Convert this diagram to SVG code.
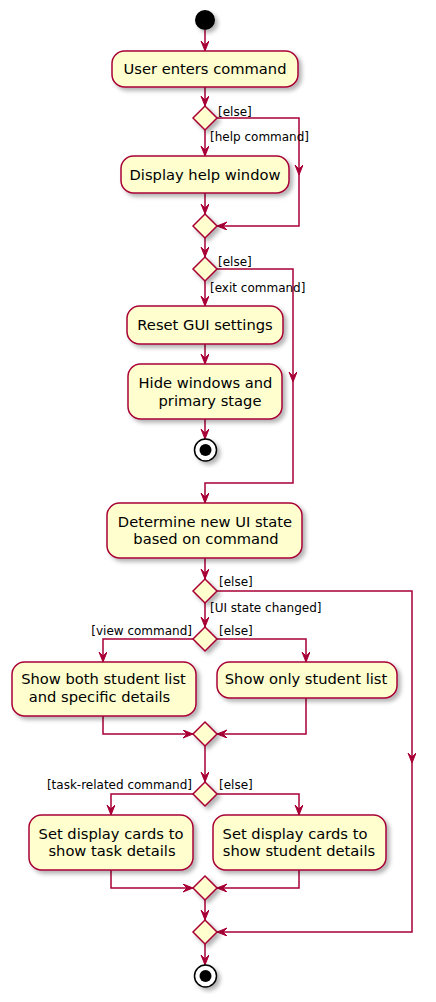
<svg xmlns="http://www.w3.org/2000/svg" width="436" height="1002" viewBox="0 0 436 1002">
<style>
.box{fill:#FEFECE;stroke:#A80036;stroke-width:1.5;filter:url(#sh)}
.dia{fill:#FEFECE;stroke:#A80036;stroke-width:1.5;filter:url(#sh)}
.ln{fill:none;stroke:#A80036;stroke-width:1.5}
.arr{marker-end:url(#ah)}
.t{font-family:"DejaVu Sans",sans-serif;font-size:14.7px;fill:#000;text-anchor:middle}
.l{font-family:"DejaVu Sans",sans-serif;font-size:12px;fill:#000}
.r{text-anchor:end}
</style>
<defs>
<filter id="sh" x="-20%" y="-20%" width="150%" height="150%">
<feDropShadow dx="3" dy="3" stdDeviation="2" flood-color="#000" flood-opacity="0.3"/>
</filter>
<marker id="ah" markerUnits="userSpaceOnUse" markerWidth="12" markerHeight="10" refX="10" refY="4" orient="auto">
<path d="M0,0 L10,4 L0,8 L4,4 Z" fill="#A80036" stroke="#A80036" stroke-width="1"/>
</marker>
</defs>
<rect width="436" height="1002" fill="#fff"/>
<g id="connectors">
<path class="ln arr" d="M205,30 V51"/>
<path class="ln arr" d="M205,87 V106"/>
<path class="ln arr" d="M205,130 V156"/>
<path class="ln arr" d="M217,118 H299 V175"/>
<path class="ln arr" d="M299,175 V226 H217"/>
<path class="ln arr" d="M205,193 V214"/>
<path class="ln arr" d="M205,238 V257"/>
<path class="ln arr" d="M205,281 V306"/>
<path class="ln arr" d="M205,344 V364"/>
<path class="ln arr" d="M205,419 V439"/>
<path class="ln arr" d="M217,269 H293 V382"/>
<path class="ln arr" d="M293,382 V483 H205 V503"/>
<path class="ln arr" d="M205,558 V579"/>
<path class="ln arr" d="M205,603 V627"/>
<path class="ln arr" d="M217,591 H412 V763"/>
<path class="ln arr" d="M412,763 V932 H217"/>
<path class="ln arr" d="M193,639 H103 V662"/>
<path class="ln arr" d="M217,639 H306 V662"/>
<path class="ln arr" d="M103,716 V734 H193"/>
<path class="ln arr" d="M306,698 V734 H217"/>
<path class="ln arr" d="M205,746 V782"/>
<path class="ln arr" d="M193,794 H111 V815"/>
<path class="ln arr" d="M217,794 H299 V815"/>
<path class="ln arr" d="M111,870 V888 H193"/>
<path class="ln arr" d="M299,870 V888 H217"/>
<path class="ln arr" d="M205,900 V920"/>
<path class="ln arr" d="M205,944 V965"/>
</g>
<g id="labels">
<text class="l" x="218" y="116">[else]</text>
<text class="l" x="210" y="141">[help command]</text>
<text class="l" x="218" y="266">[else]</text>
<text class="l" x="210" y="292">[exit command]</text>
<text class="l" x="219" y="586">[else]</text>
<text class="l" x="210" y="612">[UI state changed]</text>
<text class="l r" x="192" y="635">[view command]</text>
<text class="l" x="219" y="635">[else]</text>
<text class="l r" x="192" y="789">[task-related command]</text>
<text class="l" x="219" y="789">[else]</text>
</g>
<g id="start"><circle cx="205" cy="20" r="10" fill="#000" filter="url(#sh)"/></g>
<g id="n1"><rect class="box" x="112" y="51" width="186" height="36" rx="12.5"/><text class="t" x="205" y="74">User enters command</text></g>
<g id="d1"><polygon class="dia" points="205,106 217,118 205,130 193,118"/></g>
<g id="n2"><rect class="box" x="121" y="156" width="168" height="37" rx="12.5"/><text class="t" x="205" y="180">Display help window</text></g>
<g id="m1"><polygon class="dia" points="205,214 217,226 205,238 193,226"/></g>
<g id="d2"><polygon class="dia" points="205,257 217,269 205,281 193,269"/></g>
<g id="n3"><rect class="box" x="127" y="306" width="156" height="38" rx="12.5"/><text class="t" x="205" y="330">Reset GUI settings</text></g>
<g id="n4"><rect class="box" x="128" y="364" width="154" height="55" rx="12.5"/><text class="t" x="205.5" y="388">Hide windows and</text><text class="t" x="210" y="406">primary stage</text></g>
<g id="end1"><circle cx="205.5" cy="450" r="11" fill="#fff" stroke="#000" stroke-width="1.5" filter="url(#sh)"/><circle cx="205.5" cy="450" r="6" fill="#000"/></g>
<g id="n5"><rect class="box" x="107" y="503" width="195" height="55" rx="12.5"/><text class="t" x="205" y="527">Determine new UI state</text><text class="t" x="206" y="544">based on command</text></g>
<g id="d3"><polygon class="dia" points="205,579 217,591 205,603 193,591"/></g>
<g id="d4"><polygon class="dia" points="205,627 217,639 205,651 193,639"/></g>
<g id="n6"><rect class="box" x="12" y="662" width="184" height="54" rx="12.5"/><text class="t" x="103.5" y="684">Show both student list</text><text class="t" x="99.5" y="702">and specific details</text></g>
<g id="n7"><rect class="box" x="217" y="662" width="180" height="36" rx="12.5"/><text class="t" x="306" y="684">Show only student list</text></g>
<g id="m2"><polygon class="dia" points="205,722 217,734 205,746 193,734"/></g>
<g id="d5"><polygon class="dia" points="205,782 217,794 205,806 193,794"/></g>
<g id="n8"><rect class="box" x="29" y="815" width="164" height="55" rx="12.5"/><text class="t" x="111" y="839">Set display cards to</text><text class="t" x="112" y="856">show task details</text></g>
<g id="n9"><rect class="box" x="213" y="815" width="173" height="55" rx="12.5"/><text class="t" x="295" y="839">Set display cards to</text><text class="t" x="299" y="856">show student details</text></g>
<g id="m3"><polygon class="dia" points="205,876 217,888 205,900 193,888"/></g>
<g id="m4"><polygon class="dia" points="205,920 217,932 205,944 193,932"/></g>
<g id="end2"><circle cx="205.5" cy="976" r="11" fill="#fff" stroke="#000" stroke-width="1.5" filter="url(#sh)"/><circle cx="205.5" cy="976" r="6" fill="#000"/></g>
</svg>
